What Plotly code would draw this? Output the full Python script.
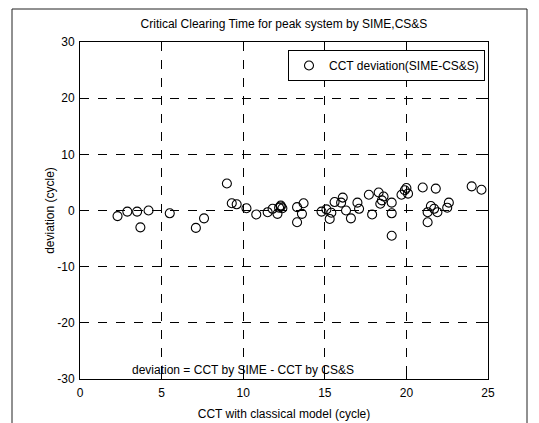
import plotly.graph_objects as go

# CCT with classical model (cycle)
cct = [2.3, 2.9, 3.5, 3.7, 4.2, 5.5, 7.1, 7.6, 9.0, 9.3, 9.6, 10.2, 10.8, 11.5,
       11.8, 12.1, 12.2, 12.3, 12.4, 12.3, 13.3, 13.7, 13.6, 13.3, 14.8, 15.1,
       15.3, 15.4, 15.6, 16.1, 16.0, 16.3, 16.6, 17.0, 17.1, 17.7, 17.9, 18.3,
       18.6, 18.5, 18.4, 19.1, 19.1, 19.1, 19.7, 19.9, 20.0, 20.1, 21.0, 21.8,
       21.5, 21.7, 21.3, 21.9, 21.3, 22.6, 22.5, 24.0, 24.6]
# deviation = CCT by SIME - CCT by CS&S (cycle)
deviation = [-1.0, -0.2, -0.2, -3.0, 0.0, -0.5, -3.1, -1.4, 4.8, 1.3, 1.1, 0.4, -0.7, -0.3,
             0.3, -0.6, 0.5, 0.7, 0.4, 0.9, 0.6, 1.3, -0.6, -2.1, -0.2, 0.2,
             -1.5, -0.4, 1.5, 2.3, 1.4, 0.0, -1.4, 1.4, 0.3, 2.8, -0.7, 3.2,
             2.5, 1.8, 1.2, 1.4, -0.5, -4.5, 2.8, 3.6, 4.0, 3.0, 4.1, 3.9,
             0.8, 0.3, -0.3, -0.3, -2.1, 1.4, 0.5, 4.3, 3.7]

x_ticks = [0, 5, 10, 15, 20, 25]
x_labels = ["0", "5", "10", "15", "20", "25"]
y_ticks = [-30, -20, -10, 0, 10, 20, 30]
y_labels = ["-30", "-20", "-10", "0", "10", "20", "30"]

FONT = "Arial, Liberation Sans, Helvetica, sans-serif"

# page body has an 8px margin; figure is sized so the plot area lands at
# window x 80..488, y 42..379
W, H = 531, 415
ML, MR, MT, MB = 72, 51, 34, 44
PW, PH = W - ML - MR, H - MT - MB


def px(wx):
    return (wx - 8 - ML) / PW


def py(wy):
    return (H - MB - (wy - 8)) / PH


fig = go.Figure()
fig.add_trace(go.Scatter(
    x=cct, y=deviation, mode="markers",
    name="CCT deviation(SIME-CS&S)",
    marker=dict(symbol="circle-open", size=9, color="black", line=dict(width=1.1, color="black")),
))

axis_common = dict(
    showline=True, linecolor="black", linewidth=1, mirror="ticks",
    ticks="inside", ticklen=5, tickcolor="black",
    showgrid=True, gridcolor="black", gridwidth=1, griddash="dash",
    zeroline=False, automargin=False,
    tickfont=dict(family=FONT, size=12, color="black"),
)

frame_col = "#222222"
fig.update_layout(
    width=W, height=H, autosize=False,
    margin=dict(l=ML, r=MR, t=MT, b=MB),
    paper_bgcolor="white", plot_bgcolor="white",
    font=dict(family=FONT, size=12, color="black"),
    title=dict(text="Critical Clearing Time for peak system by SIME,CS&S",
               x=0.5, xref="paper", xanchor="center", y=1 - (24 - 8) / H, yanchor="middle",
               font=dict(family=FONT, size=12, color="black"),
               automargin=False),
    xaxis=dict(range=[0, 25], tickvals=x_ticks, ticktext=x_labels, ticklabelstandoff=3,
               title=dict(text="CCT with classical model (cycle)", standoff=10,
                          font=dict(family=FONT, size=12, color="black")),
               **axis_common),
    yaxis=dict(range=[-30, 30], tickvals=y_ticks, ticktext=y_labels, ticklabelstandoff=2,
               title=dict(text="deviation (cycle)", standoff=0,
                          font=dict(family=FONT, size=12, color="black")),
               **axis_common),
    showlegend=True,
    legend=dict(x=px(485), y=py(50), xanchor="right", yanchor="top",
                bgcolor="white", bordercolor="black", borderwidth=1,
                font=dict(family=FONT, size=12, color="black")),
    annotations=[dict(text="deviation = CCT by SIME - CCT by CS&S",
                      x=px(243), y=py(370), xref="paper", yref="paper",
                      xanchor="center", yanchor="middle", showarrow=False,
                      font=dict(family=FONT, size=12, color="black"))],
    shapes=[
        dict(type="line", xref="paper", yref="paper", x0=px(12), x1=px(527), y0=py(9), y1=py(9),
             line=dict(color=frame_col, width=1), layer="below"),
        dict(type="line", xref="paper", yref="paper", x0=px(12), x1=px(12), y0=py(9), y1=py(423),
             line=dict(color=frame_col, width=1), layer="below"),
        dict(type="line", xref="paper", yref="paper", x0=px(527), x1=px(527), y0=py(9), y1=py(423),
             line=dict(color=frame_col, width=1), layer="below"),
    ],
)

fig.write_html("out.html")
